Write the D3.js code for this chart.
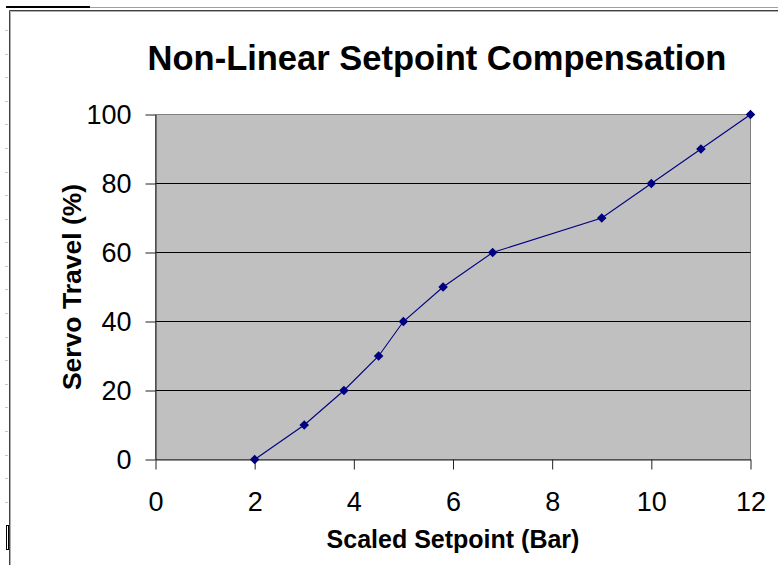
<!DOCTYPE html>
<html>
<head>
<meta charset="utf-8">
<script src="https://cdn.jsdelivr.net/npm/d3@7"></script>
<style>
  html, body { margin: 0; padding: 0; background: #fff; }
  svg { display: block; }
  text { font-family: "Liberation Sans", Arial, sans-serif; }
</style>
</head>
<body>
<svg id="chart" width="778" height="565"></svg>
<script>
// Setpoint (bar) against servo travel (%)
const setpoint = [2, 3, 3.8, 4.5, 5, 5.8, 6.8, 9, 10, 11, 12];
const travel   = [0, 10, 20, 30, 40, 50, 60, 70, 80, 90, 100];
const xTicks = [0, 2, 4, 6, 8, 10, 12];
const yTicks = [0, 20, 40, 60, 80, 100];
const gridValues = [20, 40, 60, 80];

const titleText = "Non-Linear Setpoint Compensation";
const xLabel = "Scaled Setpoint (Bar)";
const yLabel = "Servo Travel (%)";

const svg = d3.select("#chart");
const W = 778, H = 565;

svg.append("rect").attr("width", W).attr("height", H).attr("fill", "#fff");

// Worksheet edges around the chart object
const sheet = svg.append("g");
sheet.append("line").attr("x1", 90).attr("x2", W).attr("y1", 7.5).attr("y2", 7.5)
  .attr("stroke", "#a0a0a0").attr("stroke-width", 1);
sheet.append("line").attr("x1", 6).attr("x2", 90).attr("y1", 7).attr("y2", 7)
  .attr("stroke", "#000").attr("stroke-width", 2);
d3.range(21).forEach(k => {
  const yy = Math.round(30 + k * 23.585) + 0.5;
  sheet.append("line").attr("x1", 5).attr("x2", 8).attr("y1", yy).attr("y2", yy)
    .attr("stroke", "#c8c8c8");
});
sheet.append("rect").attr("x", 6.5).attr("y", 525.5).attr("width", 2).attr("height", 24)
  .attr("fill", "#fff").attr("stroke", "#000");
// chart object frame (left and top)
sheet.append("path").attr("d", `M9.5,${H} V10.5 H${W}`)
  .attr("fill", "none").attr("stroke", "#404040").attr("stroke-width", 1);
sheet.append("path").attr("d", `M10.5,${H} V11.5 H${W}`)
  .attr("fill", "none").attr("stroke", "#b0b0b0").attr("stroke-width", 1);

// Scales
const x = d3.scaleLinear().domain([0, 12]).range([155.5, 750.5]);
const y = d3.scaleLinear().domain([0, 100]).range([459.5, 114.5]);

// Plot area
svg.append("rect")
  .attr("x", x(0)).attr("y", y(100))
  .attr("width", x(12) - x(0)).attr("height", y(0) - y(100))
  .attr("fill", "#c0c0c0").attr("stroke", "#808080").attr("stroke-width", 1);

// Major gridlines
svg.append("g").selectAll("line").data(gridValues).join("line")
  .attr("x1", x(0)).attr("x2", x(12))
  .attr("y1", d => y(d)).attr("y2", d => y(d))
  .attr("stroke", "#000").attr("stroke-width", 1);

// Axes
const yAxis = d3.axisLeft(y).tickValues(yTicks).tickSize(10).tickSizeOuter(0).tickPadding(14)
  .tickFormat(d3.format("d"));
const xAxis = d3.axisBottom(x).tickValues(xTicks).tickSize(10).tickSizeOuter(0).tickPadding(22)
  .tickFormat(d3.format("d"));

const gy = svg.append("g").attr("transform", `translate(${x(0)},0)`).call(yAxis);
const gx = svg.append("g").attr("transform", `translate(0,${y(0)})`).call(xAxis);
[gx, gy].forEach(g => {
  g.select(".domain").attr("stroke", "#222");
  g.selectAll(".tick line").attr("stroke", "#222");
  g.selectAll(".tick text").attr("fill", "#000")
    .style("font-family", "'Liberation Sans', Arial, sans-serif")
    .style("font-size", "27px");
});

// Data line and markers
const pts = setpoint.map((s, i) => [s, travel[i]]);
svg.append("path").datum(pts)
  .attr("fill", "none").attr("stroke", "#000080").attr("stroke-width", 1.1)
  .attr("d", d3.line().x(d => x(d[0])).y(d => y(d[1])));

const diamond = d3.symbol().type(d3.symbolSquare).size(46);
svg.append("g").selectAll("path").data(pts).join("path")
  .attr("d", diamond)
  .attr("transform", d => `translate(${x(d[0])},${y(d[1])}) rotate(45)`)
  .attr("fill", "#000080");

// Titles
svg.append("text").attr("x", 437).attr("y", 70).attr("text-anchor", "middle")
  .style("font-size", "34.5px").style("font-weight", "bold").text(titleText);
svg.append("text").attr("x", (x(0) + x(12)) / 2).attr("y", 548).attr("text-anchor", "middle")
  .style("font-size", "25px").style("font-weight", "bold").text(xLabel);
svg.append("text")
  .attr("transform", `translate(80.5,${(y(0) + y(100)) / 2}) rotate(-90)`)
  .attr("text-anchor", "middle")
  .style("font-size", "26.5px").style("font-weight", "bold").text(yLabel);
</script>
</body>
</html>
